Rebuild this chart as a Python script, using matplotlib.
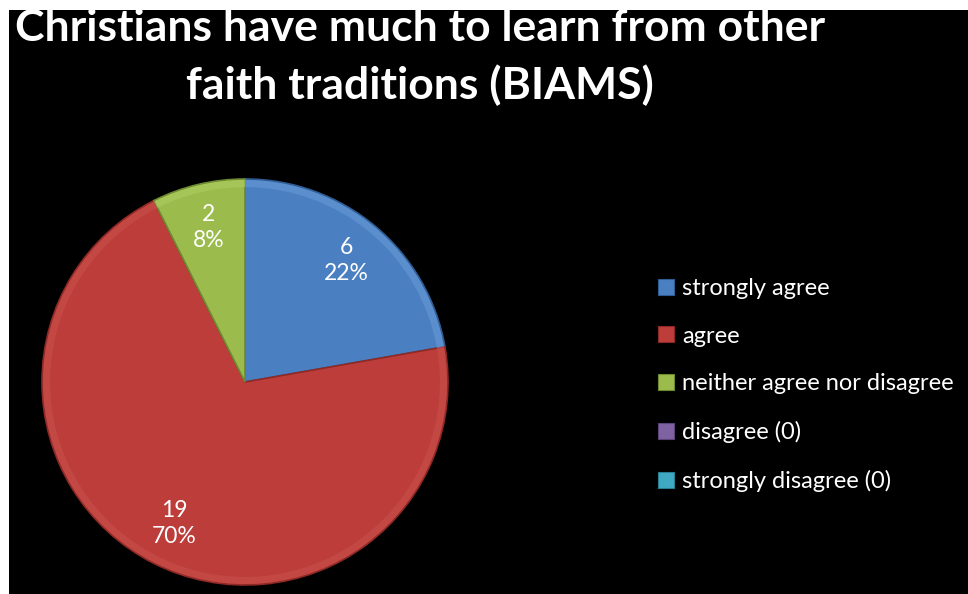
import matplotlib
matplotlib.use('Agg')
from matplotlib import pyplot as plt
from matplotlib.patches import Rectangle, Patch

# data
categories = ['strongly agree', 'agree', 'neither agree nor disagree',
              'disagree (0)', 'strongly disagree (0)']
counts = [6, 19, 2, 0, 0]
pct_labels = ['22%', '70%', '8%', '0%', '0%']
colors = ['#4A7FC1', '#BC3D3A', '#9BBB4C', '#7E62A1', '#3FA9C4']
edge_colors = ['#2F5D93', '#8E2926', '#6E8A30', '#5A4478', '#2A7E94']
rim_colors = ['#6A9BD8', '#C9504C', '#B0CF64', '#9A80BC', '#62C2DA']

title_lines = ['Christians have much to learn from other',
               'faith traditions (BIAMS)']

W, H = 968, 594
fig = plt.figure(figsize=(W / 100, H / 100), dpi=100)
fig.patch.set_facecolor('white')
# black chart area, with the thin white strip left and top
fig.add_artist(Rectangle((9 / W, 0), 1, 1 - 10 / H, transform=fig.transFigure,
                         facecolor='black', edgecolor='none', zorder=0))

# pie: centre (245, 382) px, radius 203 px
cx, cy, r = 245, 382, 203
ax = fig.add_axes([(cx - r) / W, (H - cy - r) / H, 2 * r / W, 2 * r / H])
ax.set_facecolor('none')

shown = [c for c in counts if c > 0]
n = len(shown)
texts = [f'{c}\n{p}' for c, p in zip(counts, pct_labels) if c > 0]
wedges, lbls = ax.pie(shown, colors=colors[:n], startangle=90,
                      counterclock=False, labels=texts, labeldistance=0.78,
                      wedgeprops=dict(linewidth=1.2),
                      textprops=dict(color='white', fontsize=16.5, family='Lato',
                                     linespacing=1.3))
for w, ec in zip(wedges, edge_colors):
    w.set_edgecolor(ec)
for t in lbls:
    t.set_ha('center')
    t.set_va('center')
    t.set_zorder(5)

# soft bevel rim
ax.pie(shown, colors=rim_colors[:n], startangle=90, counterclock=False,
       radius=0.995, wedgeprops=dict(width=0.035, linewidth=0, alpha=0.55))

ax.set_xlim(-1.0, 1.0)
ax.set_ylim(-1.0, 1.0)
ax.set_aspect('equal')
ax.axis('off')

# title, two centred lines (baselines at 41 and 99 px)
for line, base in zip(title_lines, [41, 99]):
    fig.text(420 / W, 1 - base / H, line, ha='center', va='baseline',
             color='white', fontsize=32, fontweight='bold', family='Lato')

# legend
handles = [Patch(facecolor=c, edgecolor=e, linewidth=0.8)
           for c, e in zip(colors, edge_colors)]
leg = fig.legend(handles, categories, loc='upper left',
                 bbox_to_anchor=(658 / W, 1 - 278 / H), frameon=False,
                 labelcolor='white', prop=dict(family='Lato', size=17),
                 handlelength=0.66, handleheight=0.66, handletextpad=0.35,
                 labelspacing=1.13, borderaxespad=0, borderpad=0)

fig.savefig('out.png', dpi=100, facecolor=fig.get_facecolor())
